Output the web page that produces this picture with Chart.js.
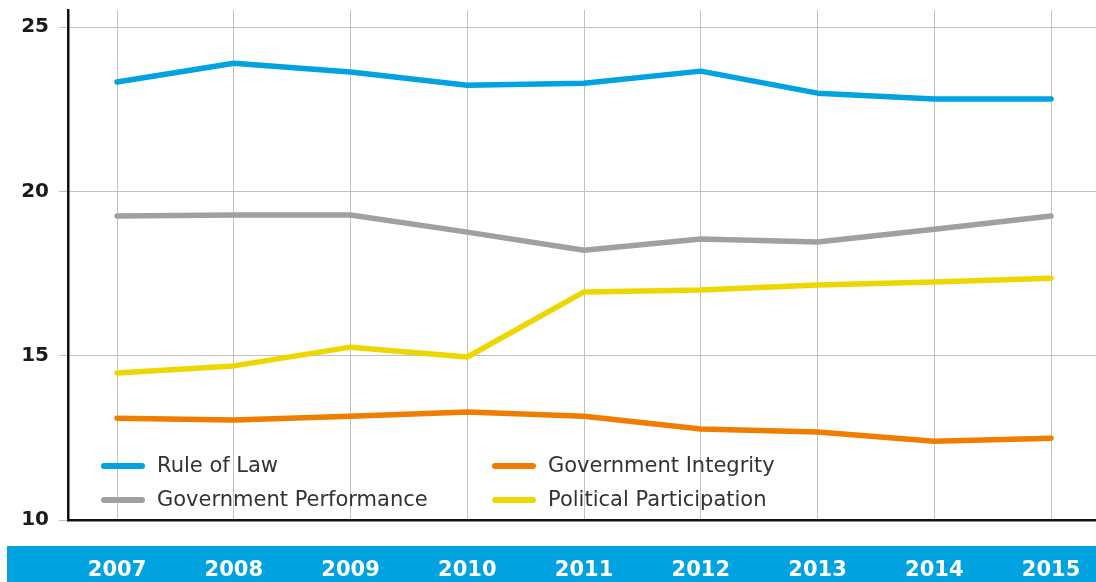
<!DOCTYPE html>
<html>
<head>
<meta charset="utf-8">
<script src="https://cdn.jsdelivr.net/npm/chart.js@4/dist/chart.umd.min.js"></script>
<style>
  html, body { margin: 0; padding: 0; background: #fff; }
  #wrap { position: relative; width: 1096px; height: 582px; }
</style>
</head>
<body>
<div id="wrap"><canvas id="chart"></canvas></div>
<script>
const years = [2007, 2008, 2009, 2010, 2011, 2012, 2013, 2014, 2015];
const yTicks = [10, 15, 20, 25];

const ruleOfLaw = [23.33, 23.90, 23.63, 23.23, 23.29, 23.66, 22.99, 22.81, 22.81];
const govPerformance = [19.25, 19.28, 19.28, 18.76, 18.21, 18.55, 18.46, 18.85, 19.25];
const polParticipation = [14.47, 14.69, 15.26, 14.96, 16.94, 17.00, 17.15, 17.24, 17.36];
const govIntegrity = [13.10, 13.04, 13.16, 13.29, 13.16, 12.77, 12.68, 12.40, 12.49];

const BLUE = "#00a2df";
const GREY = "#a0a0a0";
const ORANGE = "#ef7d00";
const YELLOW = "#ecd800";

function points(vals) {
  return vals.map((v, i) => ({ x: years[i], y: v }));
}

function line(label, vals, color) {
  return {
    label,
    data: points(vals),
    borderColor: color,
    backgroundColor: color,
    borderWidth: 5.5,
    pointRadius: 0,
    tension: 0,
    borderCapStyle: "round",
    borderJoinStyle: "round",
    fill: false
  };
}

// blue strip behind the year labels
const bandPlugin = {
  id: "band",
  beforeDraw(chart) {
    const { ctx, width, height } = chart;
    ctx.save();
    ctx.fillStyle = "#00a3e0";
    ctx.fillRect(7, height - 36, width - 7, 36);
    ctx.restore();
  }
};

// two-column legend inside the plot area
const legendPlugin = {
  id: "inlineLegend",
  afterDraw(chart) {
    const { ctx } = chart;
    const ds = chart.data.datasets;
    const slots = [
      { i: 0, x: 101, y: 466 },
      { i: 3, x: 492, y: 466 },
      { i: 1, x: 101, y: 500 },
      { i: 2, x: 492, y: 500 }
    ];
    ctx.save();
    ctx.font = "21px 'DejaVu Sans'";
    ctx.textBaseline = "middle";
    ctx.textAlign = "left";
    for (const s of slots) {
      const d = ds[s.i];
      ctx.strokeStyle = d.borderColor;
      ctx.lineWidth = 6;
      ctx.lineCap = "round";
      ctx.beginPath();
      ctx.moveTo(s.x + 3, s.y);
      ctx.lineTo(s.x + 41, s.y);
      ctx.stroke();
      ctx.fillStyle = "#333";
      ctx.fillText(d.label, s.x + 56, s.y + 1);
    }
    ctx.restore();
  }
};

new Chart(document.getElementById("chart"), {
  type: "line",
  data: {
    datasets: [
      line("Rule of Law", ruleOfLaw, BLUE),
      line("Government Performance", govPerformance, GREY),
      line("Political Participation", polParticipation, YELLOW),
      line("Government Integrity", govIntegrity, ORANGE)
    ]
  },
  options: {
    responsive: true,
    maintainAspectRatio: false,
    animation: false,
    layout: { padding: { top: 10, left: 0, right: 0, bottom: 0 } },
    plugins: { legend: { display: false }, tooltip: { enabled: false } },
    scales: {
      x: {
        type: "linear",
        min: 2006.58,
        max: 2015.385,
        afterBuildTicks: (axis) => { axis.ticks = years.map((v) => ({ value: v })); },
        afterFit: (axis) => {
          axis.height = 62;
          axis.paddingLeft = 0;
          axis.paddingRight = 0;
        },
        grid: { color: "#c0c0c0", lineWidth: 1, drawTicks: false },
        border: { color: "#111", width: 2.5 },
        ticks: {
          color: "#fff",
          padding: 38,
          font: { family: "DejaVu Sans", size: 21, weight: "bold" },
          callback: (v) => String(v),
          maxRotation: 0
        }
      },
      y: {
        min: 10,
        max: 25.52,
        afterBuildTicks: (axis) => { axis.ticks = yTicks.map((v) => ({ value: v })); },
        afterFit: (axis) => {
          axis.width = 68;
          axis.paddingTop = 0;
          axis.paddingBottom = 0;
        },
        grid: { color: "#c0c0c0", lineWidth: 1, tickLength: 9 },
        border: { color: "#111", width: 2.5 },
        ticks: {
          color: "#1a1a1a",
          padding: 10,
          font: { family: "DejaVu Sans", size: 20, weight: "bold" }
        }
      }
    }
  },
  plugins: [bandPlugin, legendPlugin]
});
</script>
</body>
</html>
